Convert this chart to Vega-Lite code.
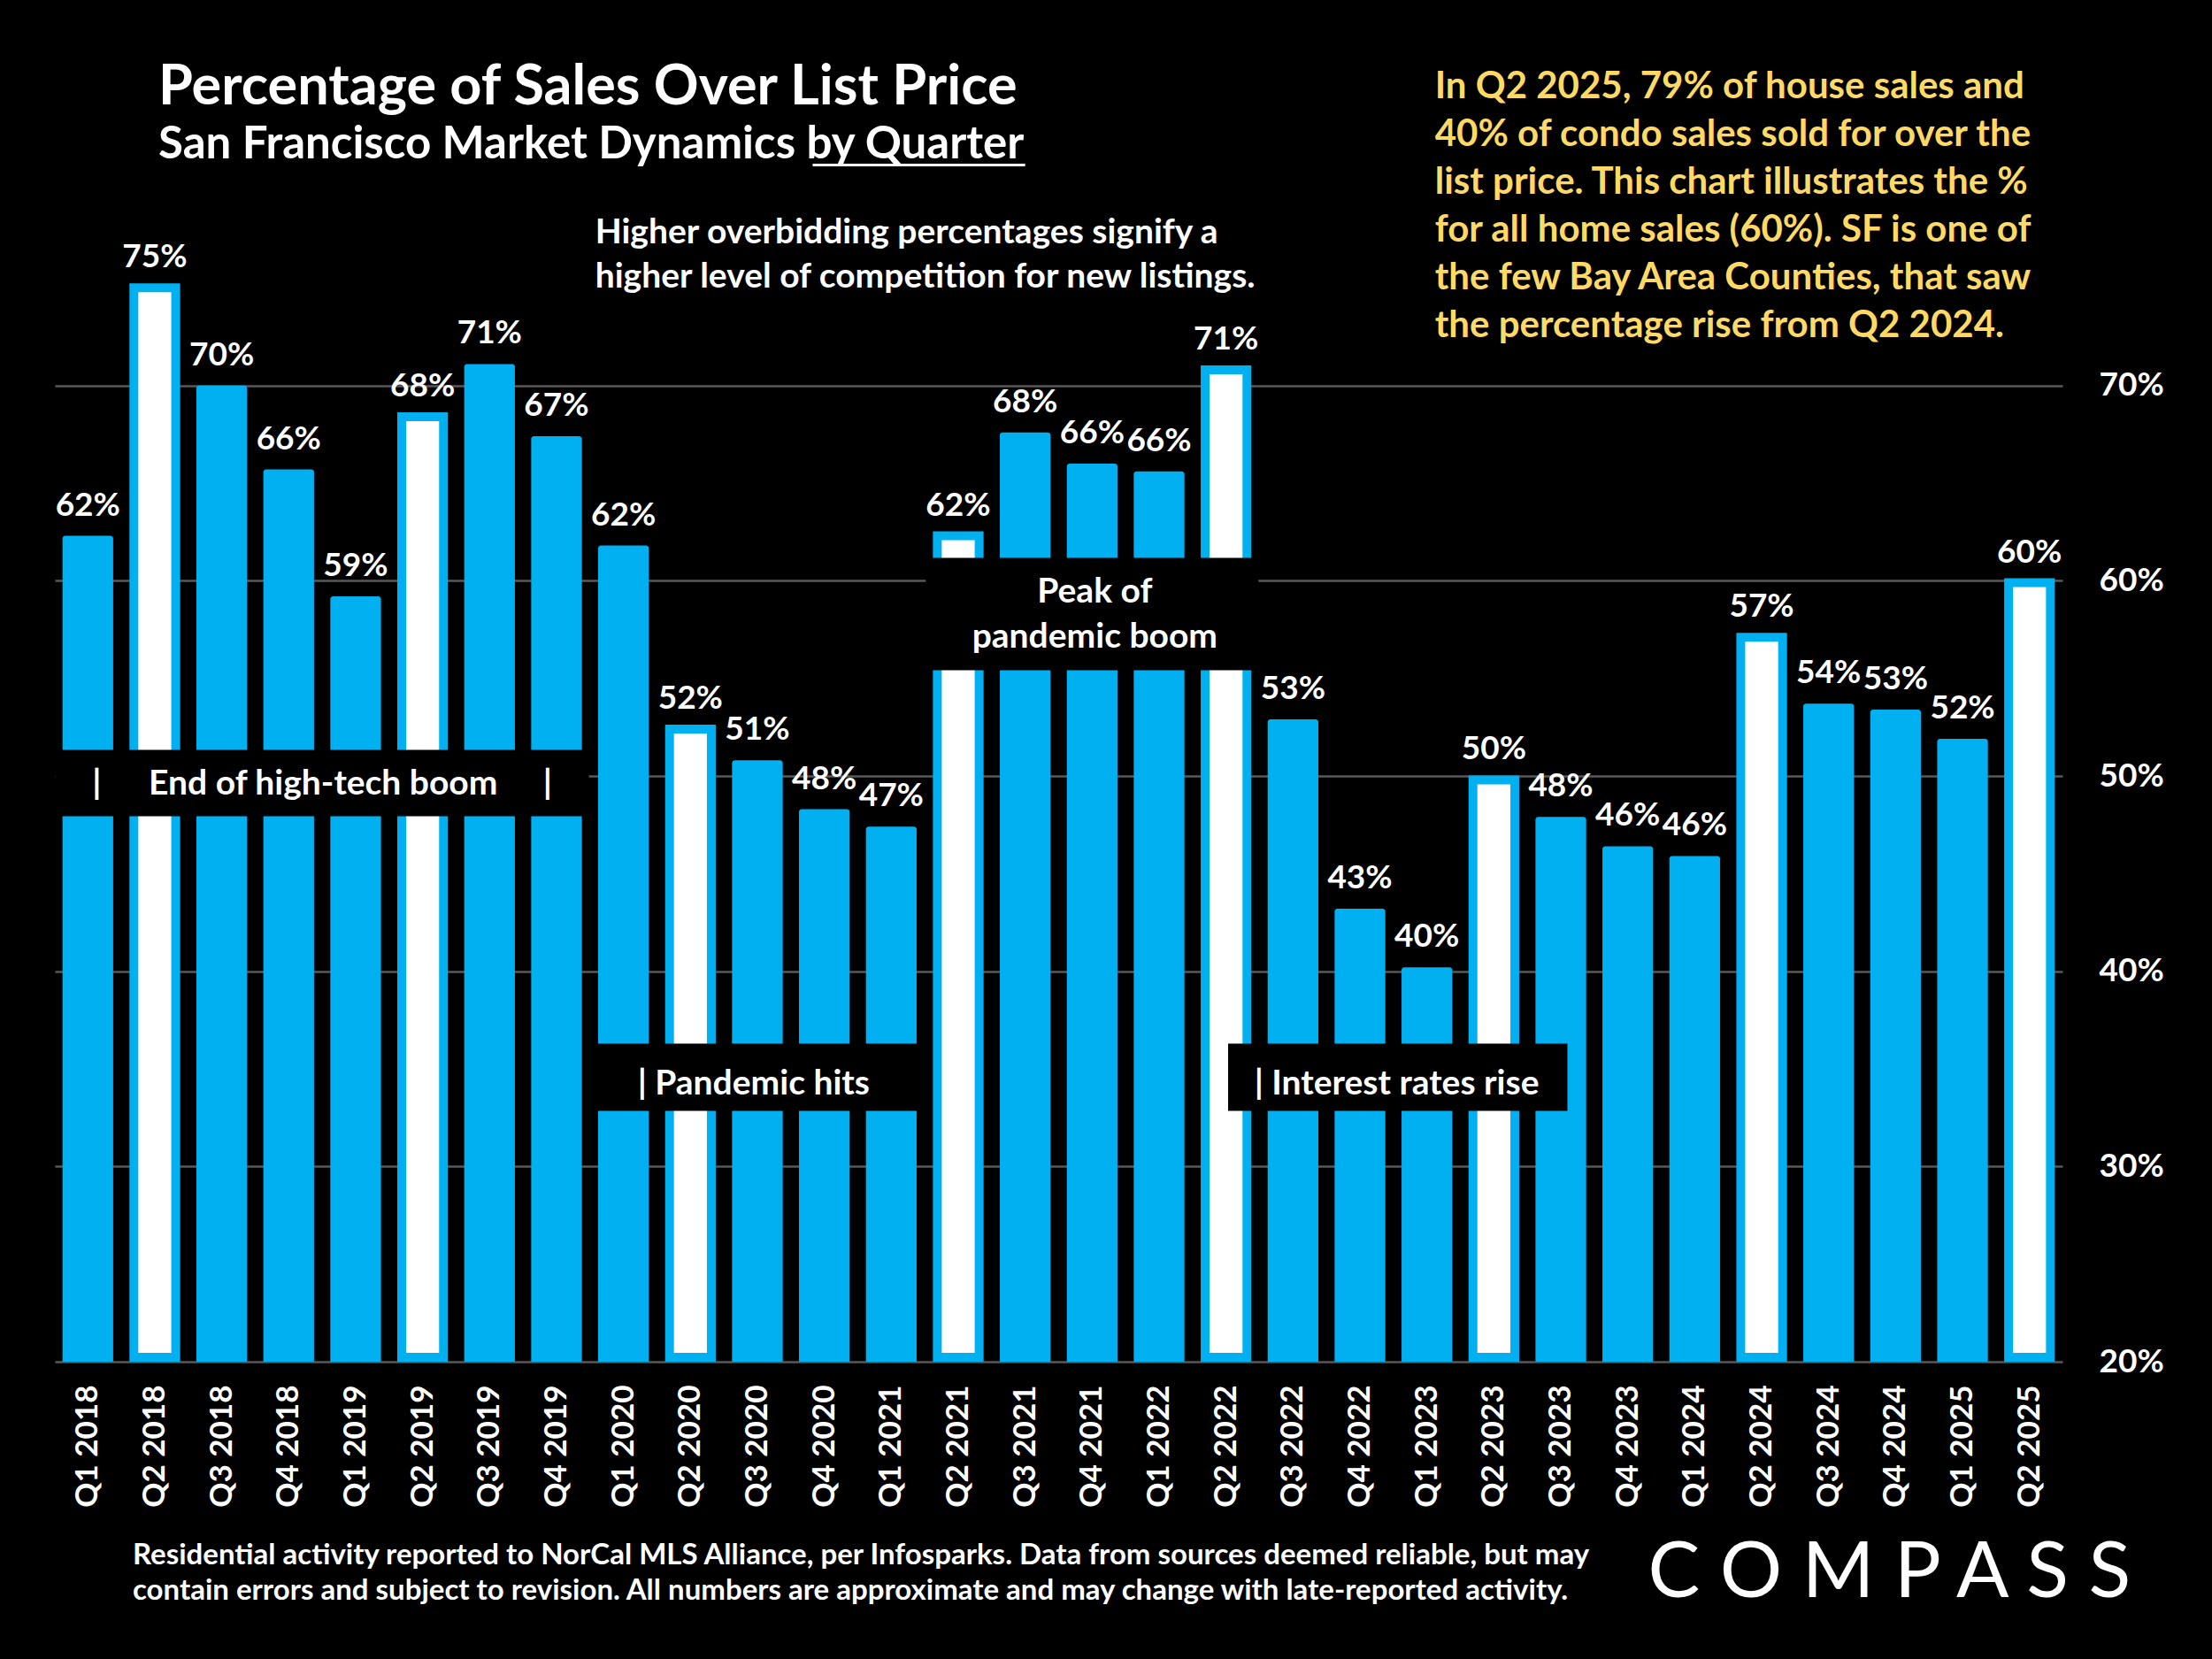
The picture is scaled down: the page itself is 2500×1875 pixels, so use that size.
{
  "$schema": "https://vega.github.io/schema/vega-lite/v6.json",
  "background": "black",
  "autosize": "none",
  "padding": {"left": 62, "top": 215, "right": 169, "bottom": 336},
  "width": 2269,
  "height": 1324,
  "title": {
    "text": "Percentage of Sales Over List Price",
    "subtitle": "San Francisco Market Dynamics by Quarter",
    "anchor": "start",
    "frame": "group",
    "dx": 117,
    "offset": -112,
    "font": "Lato",
    "fontSize": 63,
    "fontWeight": "bold",
    "color": "white",
    "subtitleFont": "Lato",
    "subtitleFontSize": 51,
    "subtitleFontWeight": "bold",
    "subtitleColor": "white",
    "subtitlePadding": 8
  },
  "config": {
    "view": {"stroke": null},
    "text": {"font": "Lato", "fontWeight": "bold", "color": "white"},
    "axis": {"title": null, "ticks": false, "domain": false, "labelFont": "Lato", "labelFontWeight": "bold", "labelColor": "white"}
  },
  "datasets": {
    "sales": [
      {"q": "Q1 2018", "v": 0.623},
      {"q": "Q2 2018", "v": 0.750},
      {"q": "Q3 2018", "v": 0.700},
      {"q": "Q4 2018", "v": 0.657},
      {"q": "Q1 2019", "v": 0.592},
      {"q": "Q2 2019", "v": 0.684},
      {"q": "Q3 2019", "v": 0.711},
      {"q": "Q4 2019", "v": 0.674},
      {"q": "Q1 2020", "v": 0.618},
      {"q": "Q2 2020", "v": 0.524},
      {"q": "Q3 2020", "v": 0.508},
      {"q": "Q4 2020", "v": 0.483},
      {"q": "Q1 2021", "v": 0.474},
      {"q": "Q2 2021", "v": 0.623},
      {"q": "Q3 2021", "v": 0.676},
      {"q": "Q4 2021", "v": 0.660},
      {"q": "Q1 2022", "v": 0.656},
      {"q": "Q2 2022", "v": 0.708},
      {"q": "Q3 2022", "v": 0.529},
      {"q": "Q4 2022", "v": 0.432},
      {"q": "Q1 2023", "v": 0.402},
      {"q": "Q2 2023", "v": 0.498},
      {"q": "Q3 2023", "v": 0.479},
      {"q": "Q4 2023", "v": 0.464},
      {"q": "Q1 2024", "v": 0.459},
      {"q": "Q2 2024", "v": 0.571},
      {"q": "Q3 2024", "v": 0.537},
      {"q": "Q4 2024", "v": 0.534},
      {"q": "Q1 2025", "v": 0.519},
      {"q": "Q2 2025", "v": 0.599}
    ],
    "boxes": [
      {"from": "Q1 2018", "to": "Q4 2019", "lo": 0.483, "hi": 0.5097},
      {"from": "Q1 2020", "to": "Q1 2021", "lo": 0.3321, "hi": 0.3593},
      {"from": "Q2 2021", "to": "Q2 2022", "lo": 0.5578, "hi": 0.6081}
    ]
  },
  "layer": [
    {
      "data": {"name": "sales"},
      "transform": [{"filter": "indexof(datum.q, 'Q2') !== 0"}],
      "mark": {"type": "bar", "color": "#00B0F0", "cornerRadiusTopLeft": 3, "cornerRadiusTopRight": 3},
      "encoding": {
        "x": {
          "field": "q",
          "type": "nominal",
          "scale": {
            "domain": ["Q1 2018", "Q2 2018", "Q3 2018", "Q4 2018", "Q1 2019", "Q2 2019", "Q3 2019", "Q4 2019", "Q1 2020", "Q2 2020", "Q3 2020", "Q4 2020", "Q1 2021", "Q2 2021", "Q3 2021", "Q4 2021", "Q1 2022", "Q2 2022", "Q3 2022", "Q4 2022", "Q1 2023", "Q2 2023", "Q3 2023", "Q4 2023", "Q1 2024", "Q2 2024", "Q3 2024", "Q4 2024", "Q1 2025", "Q2 2025"],
            "paddingInner": 0.243,
            "paddingOuter": 0.114
          },
          "axis": {"labelAngle": -90, "labelFontSize": 35, "labelPadding": 26}
        },
        "y": {
          "field": "v",
          "type": "quantitative",
          "scale": {"domain": [0.2, 0.8], "nice": false, "zero": false},
          "axis": {
            "orient": "right",
            "values": [0.2, 0.3, 0.4, 0.5, 0.6, 0.7],
            "format": ".0%",
            "labelFontSize": 37,
            "labelPadding": 41,
            "labelAlign": "left",
            "grid": true,
            "gridColor": "#595959",
            "gridWidth": 2.5
          }
        },
        "y2": {"datum": 0.2}
      }
    },
    {
      "data": {"name": "sales"},
      "transform": [{"filter": "indexof(datum.q, 'Q2') === 0"}],
      "mark": {"type": "bar", "fill": "white", "stroke": "#00B0F0", "strokeWidth": 10, "width": {"band": 0.825}},
      "encoding": {
        "x": {"field": "q", "type": "nominal"},
        "y": {"field": "v", "type": "quantitative"},
        "y2": {"datum": 0.2023}
      }
    },
    {
      "data": {"name": "sales"},
      "mark": {"type": "text", "fontSize": 37, "baseline": "alphabetic", "dy": -23},
      "encoding": {
        "x": {"field": "q", "type": "nominal"},
        "y": {"field": "v", "type": "quantitative"},
        "text": {"field": "v", "type": "quantitative", "format": ".0%"}
      }
    },
    {
      "data": {"name": "boxes"},
      "mark": {"type": "rect", "fill": "black", "stroke": "black", "strokeWidth": 16},
      "encoding": {
        "x": {"field": "from", "type": "nominal", "bandPosition": 0},
        "x2": {"field": "to", "bandPosition": 1},
        "y": {"field": "lo", "type": "quantitative"},
        "y2": {"field": "hi"}
      }
    },
    {
      "data": {"values": [{"from": "Q2 2022", "to": "Q3 2023", "lo": 0.3321, "hi": 0.3593}]},
      "mark": {"type": "rect", "fill": "black", "stroke": "black", "strokeWidth": 16},
      "encoding": {
        "x": {"field": "from", "type": "nominal", "bandPosition": 0.68},
        "x2": {"field": "to", "bandPosition": 0.49},
        "y": {"field": "lo", "type": "quantitative"},
        "y2": {"field": "hi"}
      }
    },
    {
      "data": {"values": [{"q": "Q1 2018", "y": 0.4907, "t": "|"}]},
      "mark": {"type": "text", "fontSize": 39, "align": "center", "baseline": "alphabetic", "dx": 10},
      "encoding": {"x": {"field": "q", "type": "nominal"}, "y": {"field": "y", "type": "quantitative"}, "text": {"field": "t"}}
    },
    {
      "data": {"values": [{"q": "Q4 2018", "y": 0.4907, "t": "End of high-tech boom"}]},
      "mark": {"type": "text", "fontSize": 39, "align": "center", "baseline": "alphabetic", "dx": 39},
      "encoding": {"x": {"field": "q", "type": "nominal"}, "y": {"field": "y", "type": "quantitative"}, "text": {"field": "t"}}
    },
    {
      "data": {"values": [{"q": "Q4 2019", "y": 0.4907, "t": "|"}]},
      "mark": {"type": "text", "fontSize": 39, "align": "center", "baseline": "alphabetic", "dx": -10},
      "encoding": {"x": {"field": "q", "type": "nominal"}, "y": {"field": "y", "type": "quantitative"}, "text": {"field": "t"}}
    },
    {
      "data": {"values": [{"q": "Q1 2020", "y": 0.337, "t": "| Pandemic hits"}]},
      "mark": {"type": "text", "fontSize": 39, "align": "left", "baseline": "alphabetic", "dx": 16},
      "encoding": {"x": {"field": "q", "type": "nominal"}, "y": {"field": "y", "type": "quantitative"}, "text": {"field": "t"}}
    },
    {
      "data": {"values": [{"q": "Q4 2021", "y": 0.5886, "t": "Peak of\npandemic boom"}]},
      "mark": {"type": "text", "fontSize": 39, "align": "center", "baseline": "alphabetic", "dx": 3, "lineBreak": "\n", "lineHeight": 51},
      "encoding": {"x": {"field": "q", "type": "nominal"}, "y": {"field": "y", "type": "quantitative"}, "text": {"field": "t"}}
    },
    {
      "data": {"values": [{"q": "Q2 2022", "y": 0.337, "t": "| Interest rates rise"}]},
      "mark": {"type": "text", "fontSize": 39, "align": "left", "baseline": "alphabetic", "dx": 32},
      "encoding": {"x": {"field": "q", "type": "nominal"}, "y": {"field": "y", "type": "quantitative"}, "text": {"field": "t"}}
    },
    {
      "data": {"values": [{"q": "Q1 2020", "y": 0.773, "t": "Higher overbidding percentages signify a\nhigher level of competition for new listings."}]},
      "mark": {"type": "text", "fontSize": 39, "align": "left", "baseline": "alphabetic", "dx": -32, "lineBreak": "\n", "lineHeight": 50},
      "encoding": {"x": {"field": "q", "type": "nominal"}, "y": {"field": "y", "type": "quantitative"}, "text": {"field": "t"}}
    },
    {
      "data": {"values": [{"q": "Q1 2023", "y": 0.8473, "t": "In Q2 2025, 79% of house sales and\n40% of condo sales sold for over the\nlist price. This chart illustrates the %\nfor all home sales (60%). SF is one of\nthe few Bay Area Counties, that saw\nthe percentage rise from Q2 2024."}]},
      "mark": {"type": "text", "fontSize": 42, "color": "#FFD966", "align": "left", "baseline": "alphabetic", "dx": 9, "lineBreak": "\n", "lineHeight": 54},
      "encoding": {"x": {"field": "q", "type": "nominal"}, "y": {"field": "y", "type": "quantitative"}, "text": {"field": "t"}}
    },
    {
      "data": {"values": [{"q": "Q2 2018", "y": 0.0961, "t": "Residential activity reported to NorCal MLS Alliance, per Infosparks. Data from sources deemed reliable, but may\ncontain errors and subject to revision. All numbers are approximate and may change with late-reported activity."}]},
      "mark": {"type": "text", "fontSize": 33, "align": "left", "baseline": "alphabetic", "dx": -25, "lineBreak": "\n", "lineHeight": 40},
      "encoding": {"x": {"field": "q", "type": "nominal"}, "y": {"field": "y", "type": "quantitative"}, "text": {"field": "t"}}
    },
    {
      "data": {"values": [{"q": "Q4 2024", "y": 0.0793, "t": "C O M P A S S"}]},
      "mark": {"type": "text", "fontSize": 88, "fontWeight": "normal", "align": "center", "baseline": "alphabetic", "dx": -7},
      "encoding": {"x": {"field": "q", "type": "nominal"}, "y": {"field": "y", "type": "quantitative"}, "text": {"field": "t"}}
    },
    {
      "data": {"values": [{"from": "Q4 2020", "to": "Q3 2021", "y": 0.8129}]},
      "mark": {"type": "rule", "color": "white", "strokeWidth": 3},
      "encoding": {
        "x": {"field": "from", "type": "nominal", "bandPosition": 0.27},
        "x2": {"field": "to", "bandPosition": 0.5},
        "y": {"field": "y", "type": "quantitative"}
      }
    }
  ]
}
